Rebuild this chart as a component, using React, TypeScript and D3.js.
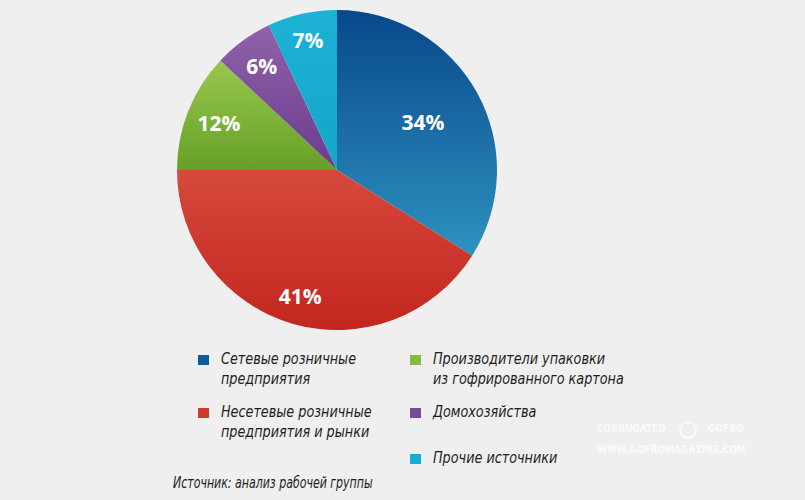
import React, { useEffect, useRef } from "react";
import * as d3 from "d3";

// shares, clockwise from 12 o'clock
const categories = [
  "Сетевые розничные предприятия",
  "Несетевые розничные предприятия и рынки",
  "Производители упаковки из гофрированного картона",
  "Домохозяйства",
  "Прочие источники",
];
const values = [34, 41, 12, 6, 7];
const legendLines = [
  ["Сетевые розничные", "предприятия"],
  ["Несетевые розничные", "предприятия и рынки"],
  ["Производители упаковки", "из гофрированного картона"],
  ["Домохозяйства"],
  ["Прочие источники"],
];
const source = "Источник: анализ рабочей группы";

const gradStops = [
  ["#08488a", "#2e92c0"],
  ["#d6493d", "#c3261e"],
  ["#98c74e", "#67a027"],
  ["#9062ab", "#6a3c8c"],
  ["#1cb2d3", "#14a6c8"],
];
const legendColors = ["#0e5a98", "#d13a30", "#86bb3c", "#7a4a98", "#18acd0"];

const W = 805, H = 500;
const cx = 337, cy = 170, R = 160;
const labelR = [98, 132, 127, 128, 133];
// legend slots: [x, y of first baseline]
const legendPos = [[198, 364], [198, 417], [410, 364], [410, 417], [410, 463]];
const legendFont = "'DejaVu Sans Condensed', 'Liberation Sans Narrow', sans-serif";

export default function App() {
  const ref = useRef<SVGSVGElement>(null);

  useEffect(() => {
    document.body.style.margin = "0";
    const svg = d3.select(ref.current);
    svg.selectAll("*").remove();

    svg.append("rect").attr("width", W).attr("height", H).attr("fill", "#efefef");

    const defs = svg.append("defs");
    gradStops.forEach((s, i) => {
      const lg = defs.append("linearGradient").attr("id", "g" + i)
        .attr("x1", 0).attr("y1", 0).attr("x2", 0).attr("y2", 1);
      lg.append("stop").attr("offset", "0%").attr("stop-color", s[0]);
      lg.append("stop").attr("offset", "100%").attr("stop-color", s[1]);
    });

    const pie = d3.pie<number>().sort(null).startAngle(0).endAngle(2 * Math.PI);
    const arcs = pie(values);
    const arc = d3.arc<d3.PieArcDatum<number>>().innerRadius(0).outerRadius(R);

    const g = svg.append("g").attr("transform", `translate(${cx},${cy})`);
    g.selectAll("path").data(arcs).enter().append("path")
      .attr("d", arc)
      .attr("fill", (_, i) => `url(#g${i})`);

    g.selectAll("text").data(arcs).enter().append("text")
      .attr("transform", (d, i) => {
        const c = d3.arc<d3.PieArcDatum<number>>().innerRadius(labelR[i]).outerRadius(labelR[i]).centroid(d);
        return `translate(${c[0]},${c[1]})`;
      })
      .attr("text-anchor", "middle")
      .attr("dy", "0.36em")
      .style("fill", "#fff")
      .style("font-family", "'Open Sans', 'Noto Sans', sans-serif")
      .style("font-weight", 700)
      .style("font-size", "21px")
      .text(d => d.data + "%");

    const lg = svg.append("g");
    categories.forEach((_, i) => {
      const [x, y] = legendPos[i];
      lg.append("rect").attr("x", x).attr("y", y - 9).attr("width", 11).attr("height", 10)
        .attr("fill", legendColors[i]);
      const t = lg.append("text").attr("transform", `translate(${x + 23},${y}) scale(0.89,1)`)
        .style("font-family", legendFont).style("font-style", "italic")
        .style("font-size", "16px").style("fill", "#1e1e1e");
      legendLines[i].forEach((ln, j) => {
        t.append("tspan").attr("x", 0).attr("dy", j === 0 ? 0 : 20).text(ln);
      });
    });

    svg.append("text").attr("transform", "translate(173,488) scale(0.815,1)")
      .style("font-family", legendFont).style("font-style", "italic")
      .style("font-size", "15px").style("fill", "#1e1e1e")
      .text(source);

    // faint watermark
    const wm = svg.append("g").style("fill", "#fafafa").style("font-family", "'DejaVu Sans Condensed', sans-serif")
      .style("font-weight", 700);
    wm.append("text").attr("x", 597).attr("y", 432).style("font-size", "10px").text("CORRUGATED");
    wm.append("text").attr("x", 708).attr("y", 432).style("font-size", "10px").text("GOFRO");
    wm.append("circle").attr("cx", 688).attr("cy", 430).attr("r", 8).attr("fill", "none")
      .attr("stroke", "#fafafa").attr("stroke-width", 2);
    wm.append("text").attr("x", 597).attr("y", 453).style("font-size", "10px").text("WWW.GOFROMAGAZINE.COM");
  }, []);

  return <svg ref={ref} width={W} height={H} style={{ display: "block" }} />;
}
